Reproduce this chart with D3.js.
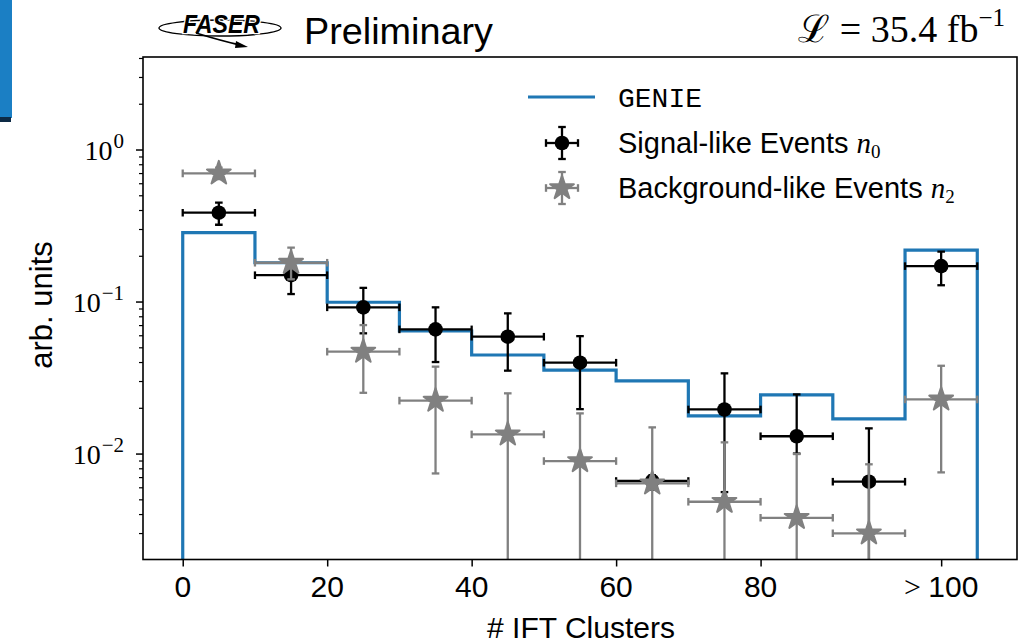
<!DOCTYPE html>
<html><head><meta charset="utf-8">
<script src="https://cdn.jsdelivr.net/npm/d3@7"></script>
<style>body{margin:0;background:#fff} svg{display:block}</style>
</head><body>
<script>
// ---- data ----
const binEdges = [0,10,20,30,40,50,60,70,80,90,100,110];
const binCenters = [5,15,25,35,45,55,65,75,85,95,105];
const genie = [0.284,0.180,0.0989,0.064,0.0445,0.0354,0.0301,0.0177,0.0243,0.0169,0.218];
const signal   = [0.384,0.149,0.0916,0.0656,0.0587,0.0396,0.0066,0.0195,0.0130,0.00653,0.171];
const signalHi = [0.447,0.186,0.123,0.0916,0.0836,0.0592,0.0072,0.0337,0.0245,0.01465,0.213];
const signalLo = [0.320,0.112,0.0618,0.040,0.0351,0.0196,0.0058,0.00558,0.0100,0.0001,0.128];
const background   = [0.697,0.180,0.0468,0.0223,0.01337,0.00893,0.00637,0.00482,0.00378,0.00299,0.0227];
const backgroundHi = [0.76,0.226,0.070,0.0373,0.0249,0.01838,0.01487,0.01185,0.00993,0.0085,0.0378];
const backgroundLo = [0.64,0.14,0.0251,0.0074,0.0001,0.0001,0.0001,0.0001,0.0001,0.0001,0.00752];
const xHalfWidth = 5;
const xTickValues = [0,20,40,60,80,105];
const xTickLabels = ["0","20","40","60","80","> 100"];
const yTickValues = [1,0.1,0.01];
const yTickExponents = ["0","\u22121","\u22122"];
const legendLabels = ["GENIE","Signal-like Events ","Background-like Events "];
const legendSubs = ["","0","2"];

// ---- layout ----
const W=1020,H=644;
const L=143,R=1017,T=57,B=559.5;
const C_BLUE="#1f77b4", C_GRAY="#808080";
const svg = d3.select("body").append("svg").attr("width",W).attr("height",H);
const x = d3.scaleLinear().domain([-5.5,115.5]).range([L,R]);
const y = d3.scaleLog().domain([0.00201,4.06]).range([B,T]);

// slide decoration
svg.append("rect").attr("x",0).attr("y",0).attr("width",12).attr("height",118).attr("fill","#1b7fc4");
svg.append("rect").attr("x",0).attr("y",117).attr("width",11).attr("height",5).attr("fill","#0d2a45");

// clip
svg.append("clipPath").attr("id","clip").append("rect")
  .attr("x",L).attr("y",T).attr("width",R-L).attr("height",B-T);
const plot = svg.append("g").attr("clip-path","url(#clip)");

// GENIE step histogram
const lowVal = 1e-4;
const stepPts = [[binEdges[0],lowVal]];
genie.forEach((v,i)=>stepPts.push([binEdges[i],v]));
stepPts.push([binEdges[binEdges.length-1],genie[genie.length-1]]);
stepPts.push([binEdges[binEdges.length-1],lowVal]);
const stepLine = d3.line().x(d=>x(d[0])).y(d=>y(d[1])).curve(d3.curveStepAfter);
plot.append("path").attr("d",stepLine(stepPts)).attr("fill","none")
  .attr("stroke",C_BLUE).attr("stroke-width",3.2);

function starPath(R){
  const r = R*0.381966; let p="";
  for(let k=0;k<10;k++){
    const a = -Math.PI/2 + k*Math.PI/5;
    const rr = k%2===0?R:r;
    p += (k===0?"M":"L")+(rr*Math.cos(a)).toFixed(2)+","+(rr*Math.sin(a)).toFixed(2);
  }
  return p+"Z";
}
function drawMarker(g,cx,cy,color,marker){
  if(marker==="circle") g.append("circle").attr("cx",cx).attr("cy",cy).attr("r",7.3).attr("fill",color);
  else g.append("path").attr("d",starPath(12.5)).attr("transform",`translate(${cx},${cy})`)
    .attr("fill",color).attr("stroke",color).attr("stroke-width",2).attr("stroke-linejoin","round");
}

function drawErr(g, vals, his, los, color, marker){
  const cap=3.8;
  binCenters.forEach((c,i)=>{
    const cx=x(c), cy=y(vals[i]);
    const x0=x(c-xHalfWidth), x1=x(c+xHalfWidth);
    const yh=y(his[i]), yl=y(Math.max(los[i],1e-5));
    const gg=g.append("g").attr("stroke",color).attr("stroke-width",2.3).attr("fill","none");
    gg.append("line").attr("x1",x0).attr("x2",x1).attr("y1",cy).attr("y2",cy);
    gg.append("line").attr("x1",cx).attr("x2",cx).attr("y1",yh).attr("y2",yl);
    gg.append("line").attr("x1",x0).attr("x2",x0).attr("y1",cy-cap).attr("y2",cy+cap);
    gg.append("line").attr("x1",x1).attr("x2",x1).attr("y1",cy-cap).attr("y2",cy+cap);
    gg.append("line").attr("x1",cx-cap).attr("x2",cx+cap).attr("y1",yh).attr("y2",yh);
    gg.append("line").attr("x1",cx-cap).attr("x2",cx+cap).attr("y1",yl).attr("y2",yl);
    drawMarker(g,cx,cy,color,marker);
  });
}
drawErr(plot.append("g"), signal, signalHi, signalLo, "#000", "circle");
drawErr(plot.append("g"), background, backgroundHi, backgroundLo, C_GRAY, "star");

// axes
const xAxis = d3.axisBottom(x).tickValues(xTickValues).tickSize(7).tickFormat("");
const gx = svg.append("g").attr("transform",`translate(0,${B})`).call(xAxis);
gx.select(".domain").remove();
gx.selectAll(".tick line").attr("stroke","#000").attr("stroke-width",1.5);
xTickValues.forEach((v,i)=>{
  const t = svg.append("text").attr("x",x(v)).attr("y",597).attr("text-anchor","middle")
    .attr("font-family","Liberation Sans, Arial, sans-serif").attr("font-size",30).attr("fill","#000");
  const lab = xTickLabels[i];
  if(lab.startsWith(">")){
    t.append("tspan").attr("font-family","Liberation Serif, DejaVu Serif, serif").text("> ");
    t.append("tspan").text(lab.slice(2));
  } else t.text(lab);
});

const yAxis = d3.axisLeft(y).tickValues(yTickValues).tickSize(7).tickFormat("");
const gy = svg.append("g").attr("transform",`translate(${L},0)`).call(yAxis);
gy.select(".domain").remove();
gy.selectAll(".tick line").attr("stroke","#000").attr("stroke-width",1.5);
const minors=[];
[0.001,0.01,0.1,1].forEach(d=>{for(let k=2;k<=9;k++){const v=d*k; if(v>=0.00201&&v<=4.06) minors.push(v);}});
const gym = svg.append("g").attr("transform",`translate(${L},0)`)
  .call(d3.axisLeft(y).tickValues(minors).tickSize(4).tickFormat(""));
gym.select(".domain").remove();
gym.selectAll(".tick line").attr("stroke","#000").attr("stroke-width",1.2);
yTickValues.forEach((v,i)=>{
  const t = svg.append("text").attr("x",124).attr("y",y(v)+10).attr("text-anchor","end")
    .attr("font-family","Liberation Serif, DejaVu Serif, serif").attr("font-size",28).attr("fill","#000");
  t.append("tspan").text("10");
  t.append("tspan").attr("font-size",21).attr("dx",1).attr("dy",-12).text(yTickExponents[i]);
});

// frame
svg.append("rect").attr("x",L).attr("y",T).attr("width",R-L).attr("height",B-T)
  .attr("fill","none").attr("stroke","#000").attr("stroke-width",1.6);

// axis labels
svg.append("text").attr("x",581).attr("y",638).attr("text-anchor","middle")
  .attr("font-family","Liberation Sans, Arial, sans-serif").attr("font-size",30).text("# IFT Clusters");
svg.append("text").attr("transform","translate(52,305) rotate(-90)").attr("text-anchor","middle")
  .attr("font-family","Liberation Sans, Arial, sans-serif").attr("font-size",31).text("arb. units");

// legend
const lg = svg.append("g");
lg.append("line").attr("x1",528).attr("x2",595).attr("y1",97).attr("y2",97).attr("stroke",C_BLUE).attr("stroke-width",3.2);
lg.append("text").attr("x",618).attr("y",107).attr("font-family","Liberation Mono, DejaVu Sans Mono, monospace")
  .attr("font-size",28).text(legendLabels[0]);
function legendMarker(cx,cy,color,marker){
  const g=lg.append("g").attr("stroke",color).attr("stroke-width",2.3);
  const hx=16, hy=16, cap=3.8;
  g.append("line").attr("x1",cx-hx).attr("x2",cx+hx).attr("y1",cy).attr("y2",cy);
  g.append("line").attr("x1",cx).attr("x2",cx).attr("y1",cy-hy).attr("y2",cy+hy);
  g.append("line").attr("x1",cx-hx).attr("x2",cx-hx).attr("y1",cy-cap).attr("y2",cy+cap);
  g.append("line").attr("x1",cx+hx).attr("x2",cx+hx).attr("y1",cy-cap).attr("y2",cy+cap);
  g.append("line").attr("x1",cx-cap).attr("x2",cx+cap).attr("y1",cy-hy).attr("y2",cy-hy);
  g.append("line").attr("x1",cx-cap).attr("x2",cx+cap).attr("y1",cy+hy).attr("y2",cy+hy);
  drawMarker(lg,cx,cy,color,marker);
}
legendMarker(562,143,"#000","circle");
legendMarker(562,188,C_GRAY,"star");
[1,2].forEach(i=>{
  const t = lg.append("text").attr("x",618).attr("y",[0,153,198][i])
    .attr("font-family","Liberation Sans, Arial, sans-serif").attr("font-size",29);
  t.append("tspan").text(legendLabels[i]);
  t.append("tspan").attr("font-family","Liberation Serif, DejaVu Serif, serif").attr("font-style","italic").text("n");
  t.append("tspan").attr("font-family","Liberation Serif, DejaVu Serif, serif").attr("font-size",19).attr("dy",5).text(legendSubs[i]);
});

// header: FASER logo
const logo = svg.append("g");
logo.append("ellipse").attr("cx",220).attr("cy",28).attr("rx",61).attr("ry",8)
  .attr("fill","none").attr("stroke","#000").attr("stroke-width",1.4);
logo.append("text").attr("x",183).attr("y",33).attr("textLength",77).attr("lengthAdjust","spacingAndGlyphs")
  .attr("font-family","Liberation Sans, Arial, sans-serif").attr("font-weight","bold").attr("font-style","italic")
  .attr("font-size",25).attr("stroke","#fff").attr("stroke-width",2.5).attr("paint-order","stroke").text("FASER");
logo.append("path").attr("d","M196,33 Q222,41 240,45").attr("fill","none").attr("stroke","#000").attr("stroke-width",1.8);
logo.append("path").attr("d","M236,41 L248,47 L235,48 Z").attr("fill","#000");
svg.append("text").attr("x",304).attr("y",44).attr("textLength",189).attr("lengthAdjust","spacingAndGlyphs")
  .attr("font-family","Liberation Sans, Arial, sans-serif").attr("font-size",37).text("Preliminary");
// luminosity
const lum = svg.append("text").attr("x",1005).attr("y",42).attr("text-anchor","end")
  .attr("font-family","Liberation Serif, DejaVu Serif, serif").attr("font-size",38);
lum.append("tspan").text("\u2112");
lum.append("tspan").text(" = 35.4 fb");
lum.append("tspan").attr("font-size",25).attr("dy",-16).text("\u22121");
</script>
</body></html>
